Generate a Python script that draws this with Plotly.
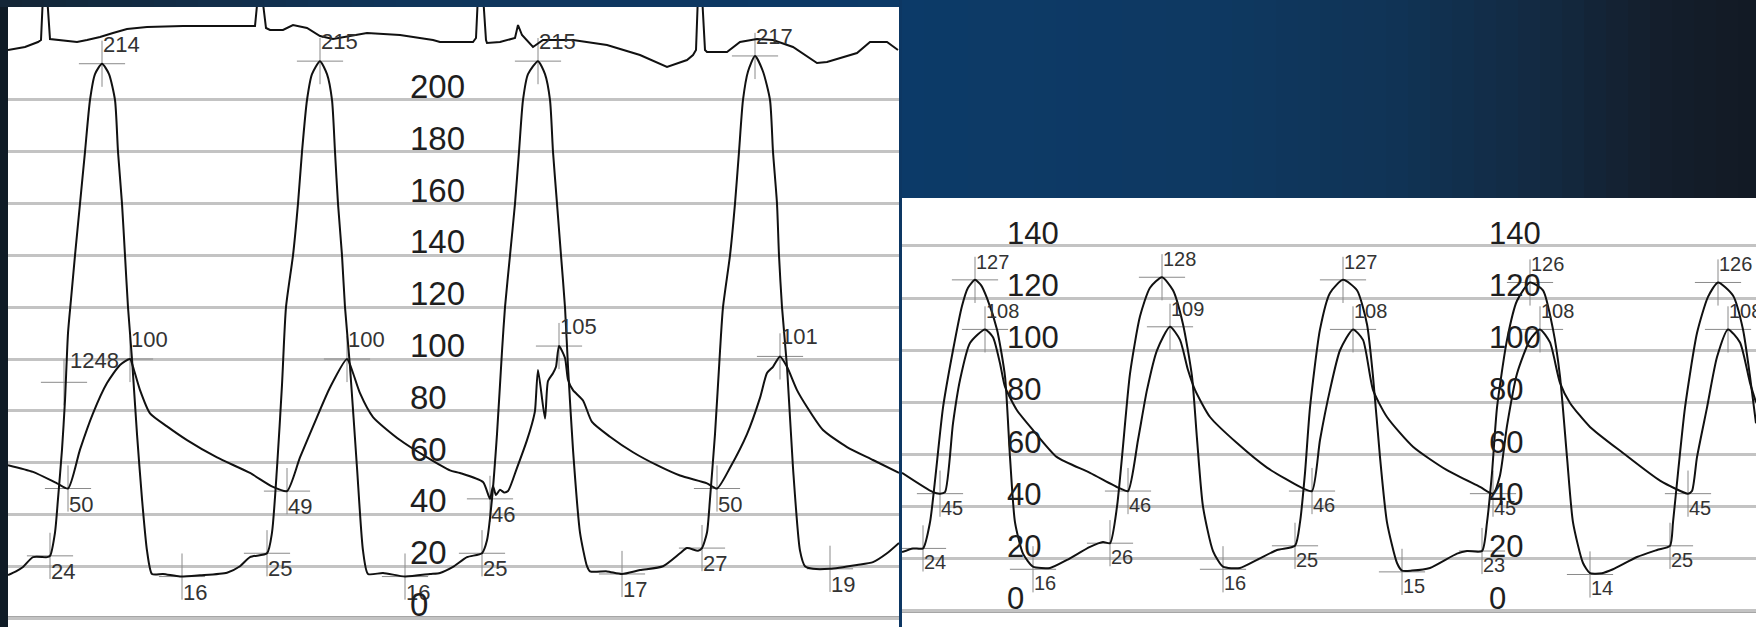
import plotly.graph_objects as go

W, H = 1756, 627

# ---------------- DATA (time in samples, pressure in mmHg) ----------------
# Left recording: LV pressure, aortic pressure, ECG
lv_left = [(0,16.6),(8,18),(15,19.7),(25,23.5),(39,23.5),(42,24),(47,33),(50,46),(54,65),(57,84),(60,110),(63,123),
           (67,140),(72,160),(77,180),(82,200),(87,210),(94,214),(101,210),(107,200),(110,180),(114,160),(117,140),
           (120,120),(124,100),(129,71),(134,46),(139,26),(144,17),(155,17),(172,16),(192,16.5),(219,17.5),(232,20),
           (242,23.5),(259,25),
           (264,33),(269,58),(274,90),(278,120),(285,140),(290,160),(294,180),(299,200),(304,210),(312,215),(319,210),
           (324,200),(327,180),(330,160),(334,140),(337,120),(342,97),(349,58),(355,26),(360,17),(375,17.4),(397,16),
           (422,17),(432,17.4),(445,19.7),(459,23.5),(474,25),
           (479,30),(484,46),(489,71),(494,103),(497,120),(502,140),(507,160),(511,180),(515,200),(520,210),(530,215),
           (537,210),(542,200),(545,180),(549,160),(553,140),(557,120),(560,97),(565,65),(572,33),(579,20),(582,18),
           (599,18),(614,17),(632,18.5),(655,20),(672,25),(679,27),(690,26),(694,27),
           (699,33),(702,46),(707,71),(712,103),(715,120),(722,140),(727,160),(731,180),(735,200),(740,211),(747,217),
           (755,211),(762,200),(765,180),(769,160),(771,140),(774,120),(779,97),(785,58),(792,26),(797,20),(805,19),
           (822,19),(849,20.5),(865,21.6),(879,25),(891,29)]

ao_left = [(0,59),(25,56.4),(49,52),(60,50),(72,65),(85,79),(99,90.7),(112,97.7),(122,100),(125,97),(132,88),(142,79),
           (159,74),(179,68.7),(209,62),(242,56),(265,50.6),(279,49),(292,62),(309,77.6),(322,89),(339,100),(345,94.6),
           (352,86.8),(365,77.6),(392,68.7),(419,62),(442,57),(452,56),(475,52.5),(482,46),(485,51),(488,47.5),
           (492,49.5),(496,48.5),(500,49),(509,58),(519,68.7),(524,75),(527,80),(530,95.8),(537,77),(540,91.5),
           (545,94.5),(548,97),(551,105),(557,100.4),(560,92),(565,88),(575,84),(584,75.7),(602,70),(625,64),
           (649,59),(672,55),(699,52),(709,50),(722,58),(739,71),(752,85),(759,94.6),(765,97),(772,101),(779,97),
           (789,88),(799,81.5),(815,72.6),(839,66),(865,61),(891,56)]

ecg_left = [(0,-0.25),(17,-0.1),(30,0.15),(33,0.25),(35,2.5),(39,2.5),(42,0.3),(69,0.15),(79,0.25),(92,0.4),(105,0.6),
            (119,0.8),(139,0.9),(175,0.95),(247,0.95),(250,2.5),(254,2.5),(258,0.85),(262,0.75),(275,0.75),(285,1.0),
            (299,0.85),(312,0.45),(325,0.3),(359,0.6),(392,0.5),(425,0.25),(432,0.15),(465,0.15),(468,0.35),(470,2.5),
            (475,2.5),(478,0.25),(479,0.1),(492,0.15),(507,0.35),(510,1.0),(514,0.5),(525,-0.1),(535,0.25),(565,0.25),
            (599,0.0),(632,-0.5),(659,-1.1),(679,-0.75),(685,-0.5),(688,-0.25),(690,2.5),(694,2.5),(697,-0.25),
            (699,-0.35),(719,-0.35),(732,0.15),(749,0.3),(765,0.25),(785,-0.1),(809,-0.9),(819,-0.85),(849,-0.4),
            (862,0.15),(879,0.15),(890,-0.25)]

# left labelled points: (time, pressure)
left_lv_peak = [(94,214),(312,215),(530,215),(747,217)]
left_lv_min = [(174,16),(397,16),(614,17),(822,19)]
left_lv_edp = [(42,24),(259,25),(474,25),(694,27)]
left_dpdt = [(56,91,1248)]
left_ao_peak = [(122,100),(339,100),(551,105),(772,101)]
left_ao_min = [(60,50),(279,49),(482,46),(709,50)]
left_ticks = [0,20,40,60,80,100,120,140,160,180,200]
left_tick_t = 403

# Right recording: LV pressure, aortic pressure
lv_right = [(0,22.6),(11,24),(21,24),(28,34),(33,50),(41,78),(51,100),(60,117),(66,124),(73,127),(79,125),(85,120),
            (95,108),(103,90),(108,59),(113,34),(121,22),(131,17),(148,16.5),(165,19.6),(188,24.6),(201,26.5),(208,26),
            (215,40),(220,59),(228,91),(238,113),(248,124),(260,128),(271,123),(281,110),(290,90),(295,66),(301,40),
            (311,23),(321,17),(338,16.5),(355,19.6),(375,23.4),(393,25),(398,34),(403,53),(408,78),(418,108),(428,122),
            (441,127),(455,123),(465,110),(471,90),(478,59),(485,34),(495,18.4),(500,15.5),(510,15.5),(528,16.5),
            (555,22),(565,23),(580,23),(585,34),(590,53),(595,78),(605,104),(615,119),(628,126),(641,123),(651,108),
            (658,90),(665,59),(671,34),(681,18.4),(688,14.5),(700,14.5),(711,16),(735,20.7),(755,23.4),(768,25),
            (771,34),(776,53),(783,78),(795,106.6),(806,120.5),(816,126),(831,121),(841,108),(848,90),(854,72)]

ao_right = [(0,53),(31,45.6),(38,45),(43,45.6),(51,72),(58,88.6),(68,102.8),(83,108),(91,105),(98,95),(103,86),
            (115,77),(131,69.4),(155,59),(188,53),(218,47),(226,46),(236,65.6),(245,84.8),(255,100),(268,109),
            (278,104),(286,92.4),(293,84.8),(308,74.4),(335,64.4),(365,55),(401,47),(410,46),(418,65.6),(428,84.8),
            (438,100),(451,108),(461,104),(471,84.8),(485,74.4),(511,63),(545,54),(578,47.6),(591,45),(598,52),
            (605,71),(615,91),(628,104),(638,108),(648,103),(658,87.5),(668,79.8),(688,70.6),(721,60.6),(758,50),
            (786,45),(790,46),(795,59),(805,78),(815,97.4),(826,108),(838,103),(848,87.5),(854,80)]

right_lv_peak = [(73,127),(260,128),(441,127),(628,126),(816,126)]
right_lv_min = [(131,16),(321,16),(500,15),(688,14)]
right_lv_edp = [(21,24),(208,26),(393,25),(580,23),(768,25)]
right_ao_peak = [(83,108),(268,109),(451,108),(638,108),(826,108)]
right_ao_min = [(38,45),(226,46),(410,46),(591,45),(786,45)]
right_ticks = [0,20,40,60,80,100,120,140]
right_tick_t = [106, 588]

# ---------------- FIGURE ----------------
fig = go.Figure()
FONT = "Liberation Sans, Arial, sans-serif"
CURVE = dict(color="#111111", width=2, shape="spline", smoothing=0.6)
MARK = dict(symbol="cross-thin", size=33, color="#8a8a8a", line=dict(color="#8a8a8a", width=1))

def xs(p): return [a[0] for a in p]
def ys(p): return [a[1] for a in p]

# crosshair markers (drawn first so curves sit on top)
left_marks = left_lv_peak + left_lv_min + left_lv_edp + [(a, b) for a, b, _ in left_dpdt] + left_ao_peak + left_ao_min
right_marks = right_lv_peak + right_lv_min + right_lv_edp + right_ao_peak + right_ao_min
fig.add_trace(go.Scatter(x=xs(left_marks), y=ys(left_marks), mode="markers", marker=MARK,
                         xaxis="x", yaxis="y", hoverinfo="skip"))
fig.add_trace(go.Scatter(x=xs(right_marks), y=ys(right_marks), mode="markers", marker=MARK,
                         xaxis="x2", yaxis="y2", hoverinfo="skip"))

fig.add_trace(go.Scatter(x=xs(ecg_left), y=ys(ecg_left), mode="lines",
                         line=dict(color="#111111", width=2), xaxis="x", yaxis="y3", hoverinfo="skip"))
fig.add_trace(go.Scatter(x=xs(lv_left), y=ys(lv_left), mode="lines", line=CURVE, xaxis="x", yaxis="y"))
fig.add_trace(go.Scatter(x=xs(ao_left), y=ys(ao_left), mode="lines", line=CURVE, xaxis="x", yaxis="y"))
fig.add_trace(go.Scatter(x=xs(lv_right), y=ys(lv_right), mode="lines", line=CURVE, xaxis="x2", yaxis="y2"))
fig.add_trace(go.Scatter(x=xs(ao_right), y=ys(ao_right), mode="lines", line=CURVE, xaxis="x2", yaxis="y2"))

ann = []
def lab(x, y, text, xr, yr, up, size):
    ann.append(dict(x=x, y=y, xref=xr, yref=yr, text=str(text), showarrow=False,
                    xanchor="left", yanchor="bottom" if up else "top",
                    xshift=-1, yshift=5 if up else -1,
                    font=dict(family=FONT, size=size, color="#333333")))

for pts, up in [(left_lv_peak, True), (left_lv_min, False), (left_lv_edp, False),
                (left_ao_peak, True), (left_ao_min, False)]:
    for x, y in pts:
        lab(x, y, y, "x", "y", up, 22)
for x, y, v in left_dpdt:
    ann.append(dict(x=x, y=y, xref="x", yref="y", text=str(v), showarrow=False, xanchor="left",
                    yanchor="bottom", xshift=4, yshift=7, font=dict(family=FONT, size=22, color="#333333")))
for pts, up in [(right_lv_peak, True), (right_lv_min, False), (right_lv_edp, False),
                (right_ao_peak, True), (right_ao_min, False)]:
    for x, y in pts:
        lab(x, y, y, "x2", "y2", up, 20)

# axis value labels inside the panels
for v in left_ticks:
    ann.append(dict(x=left_tick_t, y=v, xref="x", yref="y", text=str(v), showarrow=False,
                    xanchor="left", yanchor="bottom", xshift=-3, yshift=-7,
                    font=dict(family=FONT, size=33, color="#1e1e1e")))
for tx in right_tick_t:
    for v in right_ticks:
        ann.append(dict(x=tx, y=v, xref="x2", yref="y2", text=str(v), showarrow=False,
                        xanchor="left", yanchor="bottom", xshift=-3, yshift=-7,
                        font=dict(family=FONT, size=31, color="#1e1e1e")))

# ---------------- background / decorations ----------------
shapes = []
stops = [(0, (20, 38, 54)), (400, (16, 53, 90)), (899, (12, 58, 104)), (1200, (14, 57, 98)),
         (1400, (16, 51, 85)), (1550, (19, 41, 64)), (1650, (20, 31, 45)), (1756, (18, 26, 36))]
def col(px):
    for (a, ca), (b, cb) in zip(stops[:-1], stops[1:]):
        if a <= px <= b:
            f = (px - a) / (b - a)
            return "rgb(%d,%d,%d)" % tuple(round(ca[i] + (cb[i] - ca[i]) * f) for i in range(3))
    return "rgb(18,26,36)"
step = 22
for px0 in range(0, W, step):
    px1 = min(W, px0 + step)
    if px0 < 899 and px1 > 899:
        segs = [(px0, 899), (899, px1)]
    else:
        segs = [(px0, px1)]
    for a, b in segs:
        bottom = 198 if a >= 899 else 7
        shapes.append(dict(type="rect", xref="paper", yref="paper", x0=a / W, x1=b / W,
                           y0=1 - bottom / H, y1=1, fillcolor=col((a + b) / 2), line=dict(width=0), layer="below"))
shapes.append(dict(type="rect", xref="paper", yref="paper", x0=899 / W, x1=902 / W, y0=0, y1=1,
                   fillcolor="#0d3763", line=dict(width=0), layer="below"))

# black reference lines and heavy baseline
for v in [100, 200]:
    shapes.append(dict(type="line", xref="x domain", yref="y", x0=0, x1=1, y0=v, y1=v,
                       line=dict(color="#141414", width=2), layer="below"))
shapes.append(dict(type="line", xref="x2 domain", yref="y2", x0=0, x1=1, y0=100, y1=100,
                   line=dict(color="#141414", width=2), layer="below"))
shapes.append(dict(type="line", xref="x domain", yref="y", x0=0, x1=1, y0=0, y1=0,
                   line=dict(color="#a6a6a6", width=4), layer="below"))
shapes.append(dict(type="line", xref="x2 domain", yref="y2", x0=0, x1=1, y0=0, y1=0,
                   line=dict(color="#a6a6a6", width=4), layer="below"))

grid = dict(showgrid=True, gridcolor="#c3c3c3", gridwidth=2.5, showticklabels=False, ticks="",
            zeroline=False, showline=False, fixedrange=True)

fig.update_layout(
    width=W, height=H, margin=dict(l=0, r=0, t=0, b=0),
    paper_bgcolor="#0f1b26", plot_bgcolor="#ffffff", showlegend=False, hovermode=False,
    xaxis=dict(domain=[8 / W, 899 / W], range=[0, 891], visible=False, anchor="y"),
    yaxis=dict(domain=[0, 620 / H], range=[-3.47, 235.9], tickvals=left_ticks, anchor="x", **grid),
    yaxis3=dict(overlaying="y", anchor="x", range=[-29.1, 1.9], visible=False),
    xaxis2=dict(domain=[902 / W, 1], range=[0, 854], visible=False, anchor="y2"),
    yaxis2=dict(domain=[0, 429 / H], range=[-6.14, 158.4], tickvals=right_ticks, anchor="x2", **grid),
    annotations=ann, shapes=shapes,
)

fig.write_html("out.html", config={"displayModeBar": False},
               post_script="document.body.style.margin='0';document.body.style.overflow='hidden';"
                           "document.body.style.background='#0f1b26';")
